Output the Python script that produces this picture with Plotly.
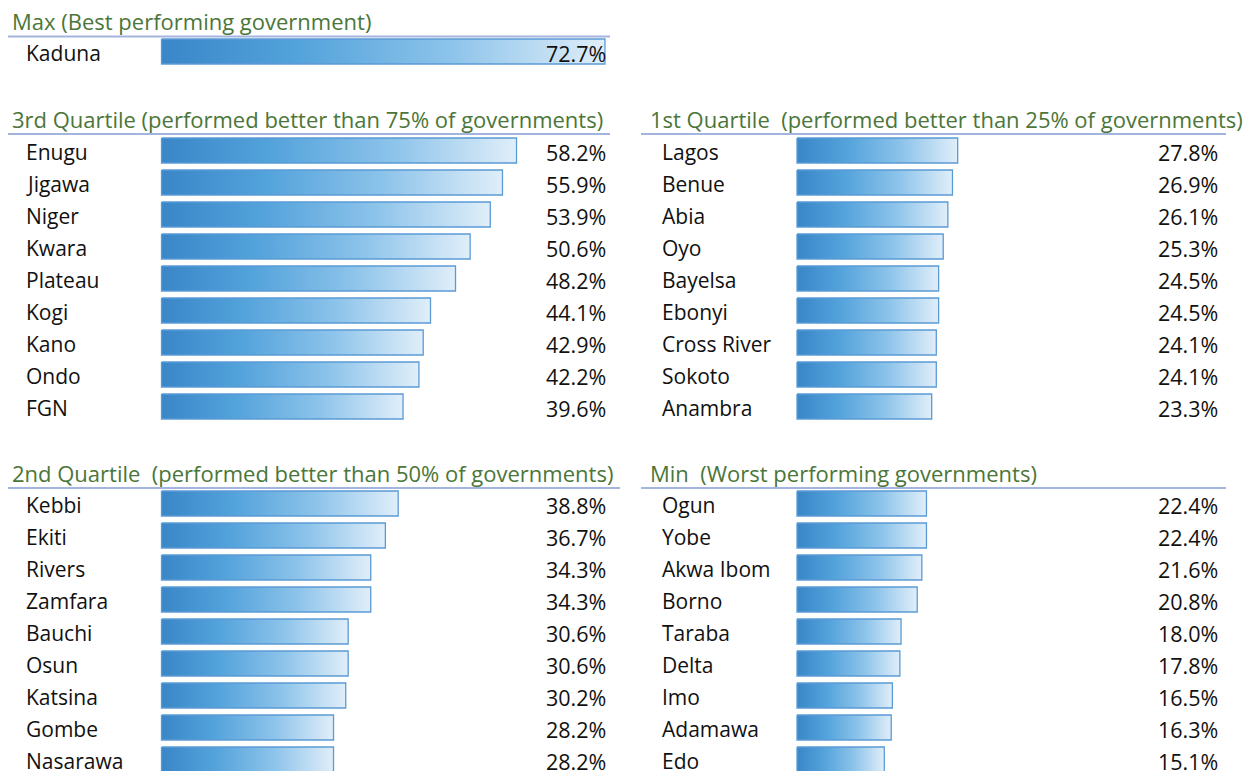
import plotly.graph_objects as go

# ---------------- data ----------------
max_title = "Max (Best performing government)"
max_states = ["Kaduna"]
max_values = [72.7]

q3_title = "3rd Quartile (performed better than 75% of governments)"
q3_states = ["Enugu", "Jigawa", "Niger", "Kwara", "Plateau", "Kogi", "Kano", "Ondo", "FGN"]
q3_values = [58.2, 55.9, 53.9, 50.6, 48.2, 44.1, 42.9, 42.2, 39.6]

q1_title = "1st Quartile  (performed better than 25% of governments)"
q1_states = ["Lagos", "Benue", "Abia", "Oyo", "Bayelsa", "Ebonyi", "Cross River", "Sokoto", "Anambra"]
q1_values = [27.8, 26.9, 26.1, 25.3, 24.5, 24.5, 24.1, 24.1, 23.3]

q2_title = "2nd Quartile  (performed better than 50% of governments)"
q2_states = ["Kebbi", "Ekiti", "Rivers", "Zamfara", "Bauchi", "Osun", "Katsina", "Gombe", "Nasarawa"]
q2_values = [38.8, 36.7, 34.3, 34.3, 30.6, 30.6, 30.2, 28.2, 28.2]

min_title = "Min  (Worst performing governments)"
min_states = ["Ogun", "Yobe", "Akwa Ibom", "Borno", "Taraba", "Delta", "Imo", "Adamawa", "Edo"]
min_values = [22.4, 22.4, 21.6, 20.8, 18.0, 17.8, 16.5, 16.3, 15.1]

# ---------------- layout constants ----------------
OFF = 8                      # page body margin of the html page
W, H = 1253 - OFF, 771 - OFF  # figure size so that it ends at the window edge
FONT = "Open Sans"
TITLE_COLOR = "#4b7639"
LINE_COLOR = "#a3b5df"
BAR_EDGE = "#5b9bd5"
GRAD = [[0.0, "#3a86c8"], [0.3, "#52a2db"], [0.65, "#8cc3ea"], [1.0, "#e0eef9"]]
ROW = 32
HALF_BAR = 12.5
TITLE_SIZE, LABEL_SIZE, VALUE_SIZE = 22, 21, 21.5


def px(x):
    return (x - OFF) / W


def py(y):
    return y - OFF


# x-axis ranges so that value 0 sits at the bar origin of each column
LEFT_ORIGIN, LEFT_SCALE = 161.5 - OFF, 6.1
RIGHT_ORIGIN, RIGHT_SCALE = 797.0 - OFF, 5.78
left_range = [-LEFT_ORIGIN / LEFT_SCALE, (W - LEFT_ORIGIN) / LEFT_SCALE]
right_range = [-RIGHT_ORIGIN / RIGHT_SCALE, (W - RIGHT_ORIGIN) / RIGHT_SCALE]

panels = [
    # title, states, values, xaxis, title_x, line_x0, line_x1, label_x, value_x, title_y, line_y, first_row_y
    (max_title, max_states, max_values, "x", 10, 7, 610, 24, 608, 21, 36.5, 53),
    (q3_title, q3_states, q3_values, "x", 10, 7, 610, 24, 608, 119, 134, 152),
    (q1_title, q1_states, q1_values, "x2", 648, 641, 1226, 660, 1220, 119, 134, 152),
    (q2_title, q2_states, q2_values, "x", 10, 7, 620, 24, 608, 473, 488, 505),
    (min_title, min_states, min_values, "x2", 648, 641, 1226, 660, 1220, 473, 488, 505),
]

fig = go.Figure()
annotations = []
shapes = []

for (title, states, values, xa, tx, lx0, lx1, labx, valx, ty, ly, y0) in panels:
    annotations.append(dict(
        text=title, x=px(tx), y=py(ty), xref="paper", yref="y", xanchor="left", yanchor="middle",
        showarrow=False, font=dict(family=FONT, size=TITLE_SIZE, color=TITLE_COLOR)))
    shapes.append(dict(type="line", xref="paper", yref="y", x0=px(lx0), x1=px(lx1),
                       y0=py(ly), y1=py(ly), line=dict(color=LINE_COLOR, width=2)))
    for i, (s, v) in enumerate(zip(states, values)):
        yc = py(y0 + i * ROW)
        yb = yc - 1.5
        fig.add_trace(go.Scatter(
            x=[0, v, v, 0, 0],
            y=[yb - HALF_BAR, yb - HALF_BAR, yb + HALF_BAR, yb + HALF_BAR, yb - HALF_BAR],
            xaxis=xa, yaxis="y", mode="lines", fill="toself",
            fillgradient=dict(type="horizontal", colorscale=GRAD),
            line=dict(color=BAR_EDGE, width=1.3), hoverinfo="skip", showlegend=False))
        annotations.append(dict(
            text=s, x=px(labx), y=yc, xref="paper", yref="y", xanchor="left", yanchor="middle",
            showarrow=False, font=dict(family=FONT, size=LABEL_SIZE, color="#111111")))
        annotations.append(dict(
            text=f"{v:.1f}%", x=px(valx), y=yc, xref="paper", yref="y", xanchor="right",
            yanchor="middle", showarrow=False,
            font=dict(family=FONT, size=VALUE_SIZE, color="#111111")))

fig.update_layout(
    width=W, height=H, margin=dict(l=0, r=0, t=0, b=0),
    paper_bgcolor="white", plot_bgcolor="white", showlegend=False, hovermode=False,
    xaxis=dict(range=left_range, domain=[0, 1], visible=False, fixedrange=True),
    xaxis2=dict(range=right_range, domain=[0, 1], visible=False, overlaying="x", fixedrange=True),
    yaxis=dict(range=[H, 0], domain=[0, 1], visible=False, fixedrange=True),
    annotations=annotations, shapes=shapes,
)

fig.write_html("out.html")
